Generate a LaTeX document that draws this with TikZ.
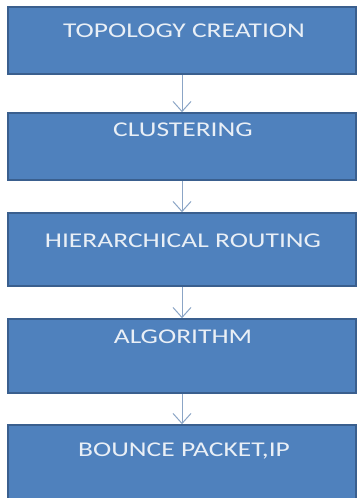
\documentclass[tikz,border=0pt]{standalone}
\usepackage{fontspec}
\setmainfont{Carlito}[FakeStretch=1.31]
\usetikzlibrary{arrows.meta,positioning}
\definecolor{boxfill}{HTML}{4F81BD}
\definecolor{boxline}{HTML}{3A5F8E}
\definecolor{flowline}{HTML}{8BA5C6}
\definecolor{boxtext}{HTML}{E9EFF6}
\begin{document}
\begin{tikzpicture}[x=1bp,y=-1bp,
        stepbox/.style={draw=boxline,line width=1.6bp,fill=boxfill,minimum width=348bp,inner sep=0pt},
        steptext/.style={text=boxtext,font=\fontsize{21bp}{24bp}\selectfont,inner sep=0pt,anchor=center},
        flow/.style={draw=flowline,line width=1bp,-{Straight Barb[length=10bp,width=18bp]}}]
        \useasboundingbox (0,0) rectangle (357,498);
        \clip (0,0) rectangle (357,498);
        \node[stepbox,minimum height=67bp] (topo) at (182,40.5) {};
        \node[stepbox,minimum height=67bp] (clus) at (182,146.5) {};
        \node[stepbox,minimum height=73bp] (hier) at (182,249.5) {};
        \node[stepbox,minimum height=74bp] (algo) at (182,356) {};
        \node[stepbox,minimum height=76bp] (bounce) at (182,463) {};
        \node[steptext] (topotext) at (184,31) {TOPOLOGY CREATION};
        \node[steptext] (clustext) at (183,130) {CLUSTERING};
        \node[steptext] (hiertext) at (183,241) {HIERARCHICAL ROUTING};
        \node[steptext] (algotext) at (183,337) {ALGORITHM};
        \node[steptext] (bouncetext) at (184,451) {BOUNCE PACKET,IP};
        \draw[flow] (topo.south) -- (clus.north);
        \draw[flow] (clus.south) -- (hier.north);
        \draw[flow] (hier.south) -- (algo.north);
        \draw[flow] (algo.south) -- (bounce.north);
    \end{tikzpicture}
\end{document}
